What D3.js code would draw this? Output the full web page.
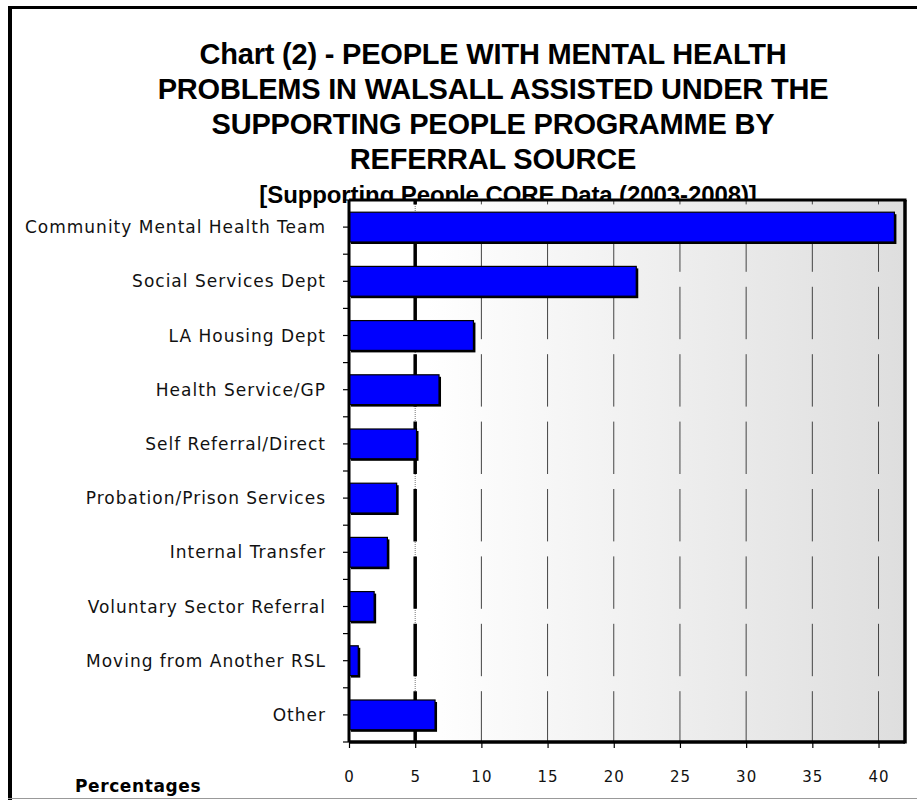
<!DOCTYPE html>
<html>
<head>
<meta charset="utf-8">
<script src="https://cdn.jsdelivr.net/npm/d3@7"></script>
<style>
  html, body { margin: 0; padding: 0; background: #fff; }
  svg { display: block; }
</style>
</head>
<body>
<svg id="chart" width="917" height="800"></svg>
<script>
// Referral sources (top to bottom) and share of clients, in percent
const categories = [
  "Community Mental Health Team",
  "Social Services Dept",
  "LA Housing Dept",
  "Health Service/GP",
  "Self Referral/Direct",
  "Probation/Prison Services",
  "Internal Transfer",
  "Voluntary Sector Referral",
  "Moving from Another RSL",
  "Other"
];
const percentages = [41.2, 21.7, 9.4, 6.8, 5.1, 3.6, 2.9, 1.9, 0.7, 6.5];
const xTicks = [0, 5, 10, 15, 20, 25, 30, 35, 40];
const xMax = 42;
const titleLines = [
  "Chart (2) - PEOPLE WITH MENTAL HEALTH",
  "PROBLEMS IN WALSALL ASSISTED UNDER THE",
  "SUPPORTING PEOPLE PROGRAMME BY",
  "REFERRAL SOURCE"
];
const subtitle = "[Supporting People CORE Data (2003-2008)]";
const axisTitle = "Percentages";

const svg = d3.select("#chart");
const plot = { left: 349, right: 905, top: 200, bottom: 742 };

const x = d3.scaleLinear().domain([0, xMax]).range([plot.left, plot.right]);
const y = d3.scaleBand().domain(categories).range([plot.top, plot.bottom]).paddingInner(0.45).paddingOuter(0.225);

// Outer frame
svg.append("line").attr("x1", 10).attr("x2", 10).attr("y1", 6).attr("y2", 800)
  .attr("stroke", "#000").attr("stroke-width", 4);
svg.append("line").attr("x1", 8).attr("x2", 917).attr("y1", 7.5).attr("y2", 7.5)
  .attr("stroke", "#000").attr("stroke-width", 3);
svg.append("line").attr("x1", 8).attr("x2", 917).attr("y1", 798.5).attr("y2", 798.5)
  .attr("stroke", "#999").attr("stroke-width", 1);

// Title block
const titleX = 493;
svg.append("g").selectAll("text").data(titleLines).join("text")
  .attr("x", titleX)
  .attr("y", (d, i) => 64 + i * 35)
  .attr("text-anchor", "middle")
  .attr("font-family", "Liberation Sans, Arial, sans-serif")
  .attr("font-weight", "bold")
  .attr("font-size", 29)
  .attr("letter-spacing", -0.2)
  .attr("fill", "#000")
  .text(d => d);

svg.append("text")
  .attr("x", 508).attr("y", 203)
  .attr("text-anchor", "middle")
  .attr("font-family", "Liberation Sans, Arial, sans-serif")
  .attr("font-weight", "bold")
  .attr("font-size", 24)
  .attr("letter-spacing", -0.1)
  .text(subtitle);

// Plot background with a left-to-right grey gradient
const defs = svg.append("defs");
const grad = defs.append("linearGradient").attr("id", "plotFill")
  .attr("x1", 0).attr("x2", 1).attr("y1", 0).attr("y2", 0);
grad.append("stop").attr("offset", 0).attr("stop-color", "#ffffff");
grad.append("stop").attr("offset", 0.14).attr("stop-color", "#ffffff");
grad.append("stop").attr("offset", 1).attr("stop-color", "#dedede");

svg.append("rect")
  .attr("x", plot.left).attr("y", plot.top)
  .attr("width", plot.right - plot.left).attr("height", plot.bottom - plot.top)
  .attr("fill", "url(#plotFill)");

// Vertical gridlines
const grid = svg.append("g");
const gridTicks = xTicks.filter(t => t > 0);
grid.selectAll("line.thin").data(gridTicks).join("line")
  .attr("class", "thin")
  .attr("x1", d => x(d)).attr("x2", d => x(d))
  .attr("y1", plot.top).attr("y2", plot.bottom)
  .attr("stroke", d => d === 5 ? "#777" : "#444")
  .attr("stroke-width", 1)
  .attr("stroke-dasharray", d => d === 5 ? "1,1" : "52.4,15")
  .attr("stroke-dashoffset", d => d === 5 ? 0 : 48);
grid.selectAll("line.major").data(gridTicks.filter(t => t === 5)).join("line")
  .attr("class", "major")
  .attr("x1", d => x(d)).attr("x2", d => x(d))
  .attr("y1", plot.top).attr("y2", plot.bottom)
  .attr("stroke", "#000")
  .attr("stroke-width", 3.5)
  .attr("stroke-dasharray", "52.4,15")
  .attr("stroke-dashoffset", 48);

// Bars with drop shadow
const bars = svg.append("g");
bars.selectAll("rect.shadow").data(percentages).join("rect")
  .attr("class", "shadow")
  .attr("x", x(0) + 2)
  .attr("y", (d, i) => y(categories[i]) + 2)
  .attr("width", d => x(d) - x(0))
  .attr("height", y.bandwidth())
  .attr("fill", "#000");
bars.selectAll("rect.bar").data(percentages).join("rect")
  .attr("class", "bar")
  .attr("x", x(0))
  .attr("y", (d, i) => y(categories[i]))
  .attr("width", d => x(d) - x(0))
  .attr("height", y.bandwidth())
  .attr("fill", "#0000ff")
  .attr("stroke", "#000")
  .attr("stroke-width", 1.2);

// Category axis: ticks at band edges and centres
const step = y.step();
const yTickPos = [];
categories.forEach(c => {
  const start = y(c) - (step - y.bandwidth()) / 2;
  yTickPos.push(start, start + step / 2);
});
yTickPos.push(plot.bottom);
svg.append("g").selectAll("line").data(yTickPos).join("line")
  .attr("x1", plot.left - 6).attr("x2", plot.left)
  .attr("y1", d => d).attr("y2", d => d)
  .attr("stroke", "#000").attr("stroke-width", 1.2);

svg.append("g").selectAll("text").data(categories).join("text")
  .attr("x", 326)
  .attr("y", d => y(d) + y.bandwidth() / 2)
  .attr("dy", "0.36em")
  .attr("text-anchor", "end")
  .attr("font-family", "DejaVu Sans, sans-serif")
  .attr("font-size", 17)
  .attr("letter-spacing", 1.0)
  .attr("fill", "#111")
  .text(d => d);

// Value axis
const xAxis = svg.append("g").attr("transform", `translate(0,${plot.bottom})`)
  .call(d3.axisBottom(x).tickValues(xTicks).tickSize(6).tickSizeOuter(0).tickFormat(d3.format("d")));
xAxis.select(".domain").remove();
xAxis.selectAll(".tick line").attr("stroke", "#000").attr("stroke-width", 1.2);
xAxis.selectAll(".tick text")
  .attr("y", 40).attr("dy", 0)
  .attr("font-family", "DejaVu Sans, sans-serif")
  .attr("font-size", 15)
  .attr("letter-spacing", 1)
  .attr("fill", "#111");

// Plot frame and axis lines
svg.append("line").attr("x1", plot.left).attr("x2", plot.right)
  .attr("y1", plot.bottom).attr("y2", plot.bottom)
  .attr("stroke", "#000").attr("stroke-width", 3.5);
svg.append("line").attr("x1", plot.left).attr("x2", plot.left)
  .attr("y1", plot.top).attr("y2", plot.bottom)
  .attr("stroke", "#000").attr("stroke-width", 3);
svg.append("line").attr("x1", plot.left).attr("x2", plot.right + 1.5)
  .attr("y1", plot.top).attr("y2", plot.top)
  .attr("stroke", "#000").attr("stroke-width", 3);
svg.append("line").attr("x1", plot.right).attr("x2", plot.right)
  .attr("y1", plot.top).attr("y2", plot.bottom + 1.5)
  .attr("stroke", "#000").attr("stroke-width", 3.5);

// Axis title
svg.append("text")
  .attr("x", 75).attr("y", 792)
  .attr("font-family", "DejaVu Sans, sans-serif")
  .attr("font-weight", "bold")
  .attr("font-size", 17)
  .attr("letter-spacing", 0.6)
  .text(axisTitle);
</script>
</body>
</html>
